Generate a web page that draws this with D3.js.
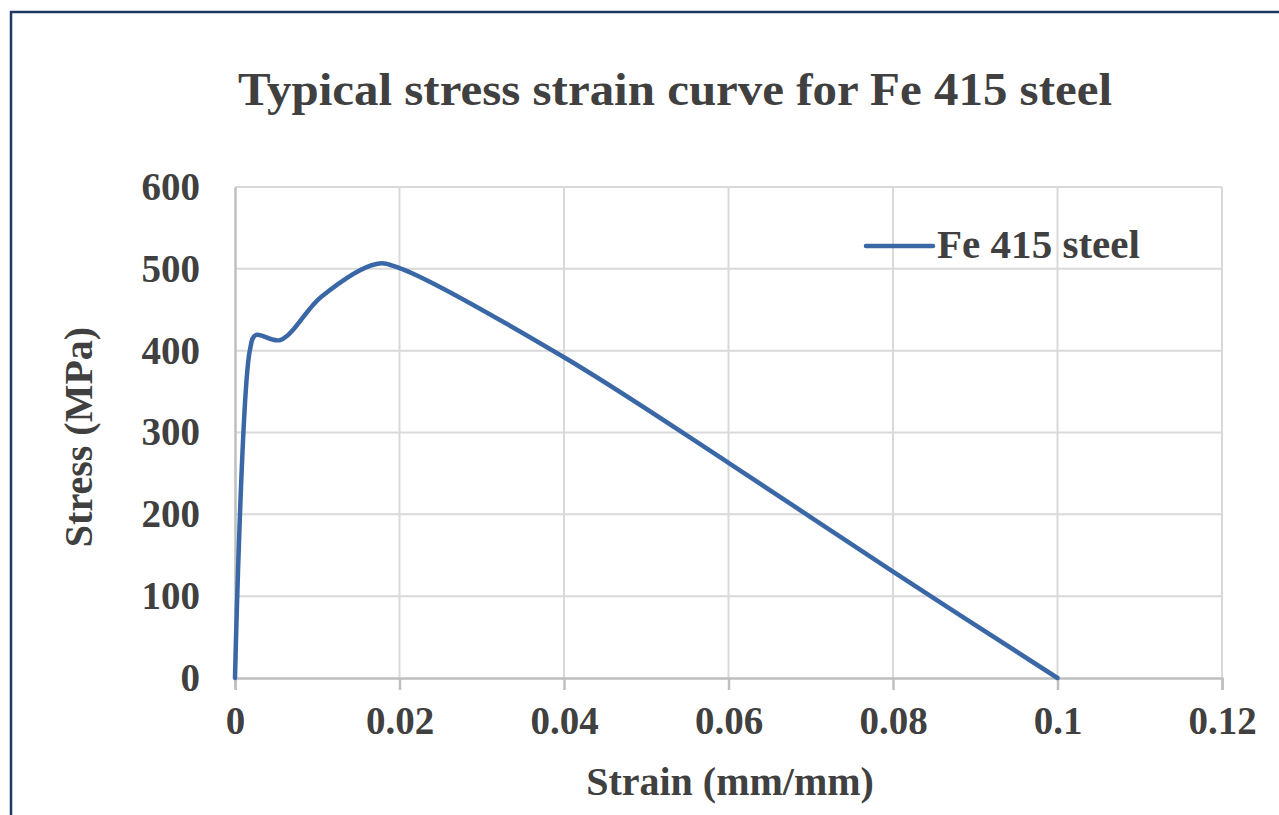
<!DOCTYPE html>
<html>
<head>
<meta charset="utf-8">
<script src="https://cdn.jsdelivr.net/npm/d3@7"></script>
<style>
  body { margin: 0; background: #fff; }
  text { font-family: "Liberation Serif", "Times New Roman", serif; font-weight: bold; fill: #404040; }
</style>
</head>
<body>
<div id="chart"></div>
<script>
// Values
const strain = [0, 0.0018, 0.0025, 0.0055, 0.0105, 0.0172, 0.02, 0.04, 0.06, 0.08, 0.1];
const stress = [0, 400, 419, 413, 466, 506, 501, 392, 263, 130, 0];
const xTicks = [0, 0.02, 0.04, 0.06, 0.08, 0.1, 0.12];
const yTicks = [0, 100, 200, 300, 400, 500, 600];
const seriesName = "Fe 415 steel";

const W = 1279, H = 815;
const margin = { top: 187, left: 235, right: 57, bottom: 137 };
const width = W - margin.left - margin.right,
  height = H - margin.top - margin.bottom;

const svg = d3.select("#chart")
  .append("svg")
    .attr("width", W)
    .attr("height", H);

// outer chart frame
svg.append("rect")
  .attr("x", 11).attr("y", 12)
  .attr("width", W + 20).attr("height", H + 20)
  .attr("fill", "none")
  .attr("stroke", "#1f3864")
  .attr("stroke-width", 2.5);

svg.append("text")
  .attr("x", 675).attr("y", 105)
  .attr("text-anchor", "middle")
  .attr("font-size", 47)
  .attr("textLength", 874)
  .attr("lengthAdjust", "spacingAndGlyphs")
  .text("Typical stress strain curve for Fe 415 steel");

const g = svg.append("g")
  .attr("transform", "translate(" + margin.left + "," + margin.top + ")");

const xScale = d3.scaleLinear().domain([0, 0.12]).range([0, width]);
const yScale = d3.scaleLinear().domain([0, 600]).range([height, 0]);

// gridlines
g.append("g")
  .selectAll("line.h")
  .data(yTicks.slice(1))
  .join("line")
    .attr("x1", 0).attr("x2", width)
    .attr("y1", d => yScale(d)).attr("y2", d => yScale(d))
    .attr("stroke", "#d9d9d9").attr("stroke-width", 2);

g.append("g")
  .selectAll("line.v")
  .data(xTicks.slice(1))
  .join("line")
    .attr("x1", d => xScale(d)).attr("x2", d => xScale(d))
    .attr("y1", 0).attr("y2", height)
    .attr("stroke", "#d9d9d9").attr("stroke-width", 2);

// X axis
const xAxis = g.append("g")
  .attr("transform", "translate(0," + height + ")")
  .call(d3.axisBottom(xScale).tickValues(xTicks).tickFormat(d => String(+d.toFixed(2))).tickSizeOuter(0).tickSize(12).tickPadding(16));
xAxis.select(".domain").attr("stroke", "#bfbfbf").attr("stroke-width", 2.5);
xAxis.selectAll(".tick line").attr("stroke", "#bfbfbf").attr("stroke-width", 2.5);
xAxis.selectAll("text").attr("font-size", 39).attr("fill", "#404040")
  .attr("font-family", "Liberation Serif, Times New Roman, serif").attr("font-weight", "bold");

// Y axis
const yAxis = g.append("g")
  .call(d3.axisLeft(yScale).tickValues(yTicks).tickSizeOuter(0).tickSize(0).tickPadding(35));
yAxis.select(".domain").attr("stroke", "#bfbfbf").attr("stroke-width", 2.5);
yAxis.selectAll("text").attr("font-size", 39).attr("fill", "#404040")
  .attr("font-family", "Liberation Serif, Times New Roman, serif").attr("font-weight", "bold");

// Axis titles
svg.append("text")
  .attr("x", 730).attr("y", 795)
  .attr("text-anchor", "middle")
  .attr("font-size", 40)
  .text("Strain (mm/mm)");

svg.append("text")
  .attr("transform", "translate(92,437) rotate(-90)")
  .attr("text-anchor", "middle")
  .attr("font-size", 40)
  .text("Stress (MPa)");

// curve
const data = strain.map((s, i) => [s, stress[i]]);
const line = d3.line()
  .curve(d3.curveCatmullRom.alpha(0.5))
  .x(d => xScale(d[0]))
  .y(d => yScale(d[1]));

g.append("path")
  .datum(data)
  .attr("d", line)
  .attr("fill", "none")
  .attr("stroke", "#3a67a6")
  .attr("stroke-width", 4.5)
  .attr("stroke-linejoin", "round")
  .attr("stroke-linecap", "round");

// legend
svg.append("line")
  .attr("x1", 866).attr("x2", 933)
  .attr("y1", 246).attr("y2", 246)
  .attr("stroke", "#3a67a6").attr("stroke-width", 4.5)
  .attr("stroke-linecap", "round");
svg.append("text")
  .attr("x", 937).attr("y", 258)
  .attr("font-size", 40)
  .attr("textLength", 203)
  .attr("lengthAdjust", "spacingAndGlyphs")
  .text(seriesName);
</script>
</body>
</html>
